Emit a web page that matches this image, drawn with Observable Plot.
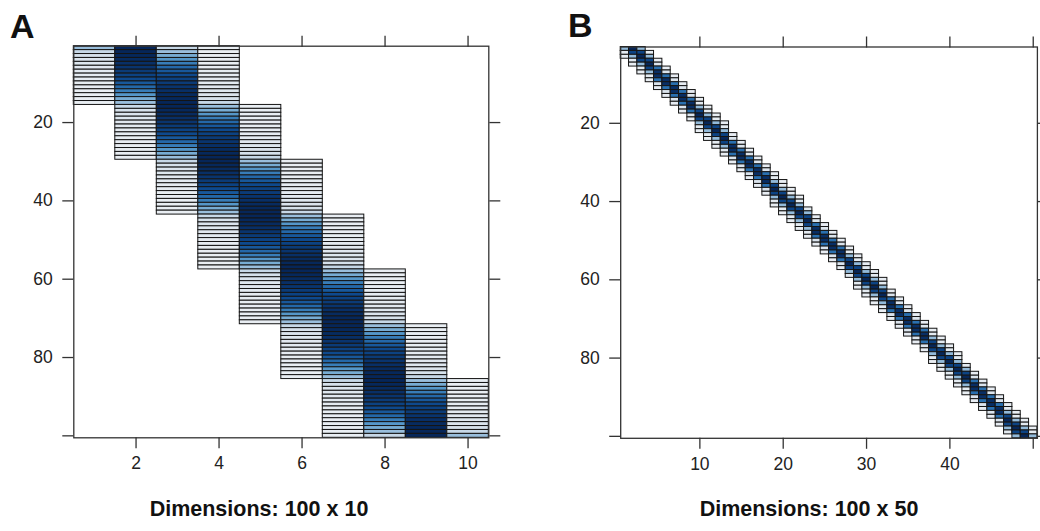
<!DOCTYPE html>
<html>
<head>
<meta charset="utf-8">
<script src="https://cdn.jsdelivr.net/npm/d3@7"></script>
<script src="https://cdn.jsdelivr.net/npm/@observablehq/plot@0.6"></script>
<style>
  body { margin: 0; background: #fff; }
  #wrap { position: relative; width: 1040px; height: 531px; overflow: hidden; background: #fff;
          font-family: "Liberation Sans", Arial, Helvetica, sans-serif; color: #111; }
  .panel { position: absolute; top: 0; }
  .panel svg { max-width: none !important; }
  .tag { position: absolute; font-weight: bold; font-size: 34px; line-height: 1; }
  .title { position: absolute; font-weight: bold; font-size: 21.5px; line-height: 1; white-space: nowrap; transform: translateX(-50%); }
</style>
</head>
<body>
<div id="wrap">
  <div id="panelA" class="panel" style="left:0px; width:520px"></div>
  <div id="panelB" class="panel" style="left:520px; width:530px"></div>
  <div class="tag" style="left:10px; top:8.5px">A</div>
  <div class="tag" style="left:568px; top:8px">B</div>
  <div class="title" id="titleA" style="left:259px; top:499px"></div>
  <div class="title" id="titleB" style="left:809px; top:499px"></div>
</div>
<script>
// ---------- Panel A: 100 x 10 ----------
const titleA = "Dimensions: 100 x 10";
const colsA = [1, 2, 3, 4, 5, 6, 7, 8, 9, 10];
const rowStartA = [1, 1, 1, 1, 16, 30, 44, 58, 72, 86];
const rowEndA = [15, 29, 43, 57, 71, 85, 100, 100, 100, 100];
const centerA = [-12.5, 1.5, 15.5, 29.5, 43.5, 57.5, 71.5, 85.5, 99.5, 113.5];
// value by distance (in rows) from the column's centre: 0.5, 1.5, 2.5, ...
const profileA = [0.665, 0.655, 0.638, 0.612, 0.580, 0.543, 0.501, 0.456, 0.410, 0.363,
                  0.316, 0.269, 0.225, 0.185, 0.149, 0.119, 0.092, 0.070, 0.052, 0.037,
                  0.026, 0.017, 0.010, 0.006, 0.003, 0.001, 0.0002, 0.0001];
const xTicksA = [2, 4, 6, 8, 10];

// ---------- Panel B: 100 x 50 ----------
const titleB = "Dimensions: 100 x 50";
const colsB = d3.range(1, 51);
const centerB = [-1.1, 1.0, 3.1, 5.2, 7.3, 9.4, 11.5, 13.6, 15.7, 17.9, 20.0, 22.1, 24.2, 26.3, 28.4,
                 30.5, 32.6, 34.7, 36.8, 38.9, 41.0, 43.1, 45.2, 47.3, 49.4, 51.6, 53.7, 55.8, 57.9,
                 60.0, 62.1, 64.2, 66.3, 68.4, 70.5, 72.6, 74.7, 76.8, 78.9, 81.0, 83.1, 85.2, 87.4,
                 89.5, 91.6, 93.7, 95.8, 97.9, 100.0, 102.1];
const rowStartB = [1, 1, 1, 2, 4, 6, 8, 10, 12, 14, 16, 18, 20, 23, 25, 27, 29, 31, 33, 35, 37, 39, 42, 44, 46,
                   48, 50, 52, 54, 56, 58, 60, 63, 65, 67, 69, 71, 73, 75, 77, 79, 82, 84, 86, 88, 90, 92, 94, 96, 98];
const rowEndB = [3, 5, 7, 9, 11, 13, 15, 17, 19, 22, 24, 26, 28, 30, 32, 34, 36, 38, 41, 43, 45, 47, 49, 51, 53,
                 55, 57, 59, 62, 64, 66, 68, 70, 72, 74, 76, 78, 81, 83, 85, 87, 89, 91, 93, 95, 97, 99, 100, 100, 100];
// value by distance from the column's centre, in half-row steps: 0, 0.5, 1, ... 4.5
const profileB = [0.667, 0.617, 0.495, 0.340, 0.193, 0.090, 0.032, 0.006, 0.0002, 0.0001];
const xTicksB = [10, 20, 30, 40, 50];

const yTicks = [20, 40, 60, 80, 100];
const colorStops = [0, 0.14, 0.18, 0.26, 0.34, 0.45, 0.667];
const colorRange = ["#e9eef3", "#d3dfea", "#9dc0dd", "#5a9ccc", "#2a70b0", "#0e4a8f", "#062658"];

// build cell tables
const cellsA = [];
colsA.forEach((c, j) => {
  for (let r = rowStartA[j]; r <= rowEndA[j]; r++) {
    const k = Math.round(Math.abs(r - centerA[j]) - 0.5);
    cellsA.push({col: c, row: r, value: profileA[Math.min(k, profileA.length - 1)]});
  }
});
const cellsB = [];
colsB.forEach((c, j) => {
  for (let r = rowStartB[j]; r <= rowEndB[j]; r++) {
    const k = Math.round(Math.abs(r - centerB[j]) * 2);
    cellsB.push({col: c, row: r, value: profileB[Math.min(k, profileB.length - 1)]});
  }
});

const FONT = '"Liberation Sans", Arial, Helvetica, sans-serif';
const FS = 17.5;

function panel(cells, ncol, xTicks, opts) {
  return Plot.plot({
    width: opts.width, height: 480,
    marginLeft: opts.ml, marginRight: opts.mr, marginTop: opts.mt, marginBottom: opts.mb,
    x: {domain: [0.5, ncol + 0.5], label: null},
    y: {domain: [0.5, 100.5], reverse: true, label: null},
    color: {type: "linear", domain: colorStops, range: colorRange},
    style: {fontFamily: FONT, fontSize: FS + "px", color: "#222", background: "transparent",
            overflow: "visible", maxWidth: "none"},
    marks: [
      Plot.rect(cells, {x1: d => d.col - 0.5, x2: d => d.col + 0.5, y1: d => d.row - 0.5, y2: d => d.row + 0.5,
                        fill: "value", stroke: "#151515", strokeWidth: 1}),
      Plot.frame({stroke: "#333", strokeWidth: 1.3}),
      Plot.axisX(xTicks, {anchor: "bottom", tickSize: 11, tickPadding: 8, strokeWidth: 1.3, stroke: "#333",
                          fontSize: FS, fontFamily: FONT, fill: "#222",
                          tickFormat: d => (d === opts.hideX ? "" : String(d)), label: null}),
      Plot.axisX(xTicks, {anchor: "top", tickSize: 11, strokeWidth: 1.3, stroke: "#333", tickFormat: () => "", label: null}),
      Plot.axisY(yTicks, {anchor: "left", tickSize: 11, tickPadding: 10, strokeWidth: 1.3, stroke: "#333",
                          fontSize: FS, fontFamily: FONT, fill: "#222",
                          tickFormat: d => (d === 100 ? "" : String(d)), label: null}),
      Plot.axisY(yTicks, {anchor: "right", tickSize: 11, strokeWidth: 1.3, stroke: "#333", tickFormat: () => "", label: null})
    ]
  });
}

document.getElementById("panelA").append(
  panel(cellsA, 10, xTicksA, {width: 520, ml: 73.3, mr: 31.7, mt: 45.7, mb: 42.7, hideX: null}));
document.getElementById("panelB").append(
  panel(cellsB, 50, xTicksB, {width: 530, ml: 100.2, mr: 13.1, mt: 46.5, mb: 42.2, hideX: 50}));
document.getElementById("titleA").textContent = titleA;
document.getElementById("titleB").textContent = titleB;
</script>
</body>
</html>
